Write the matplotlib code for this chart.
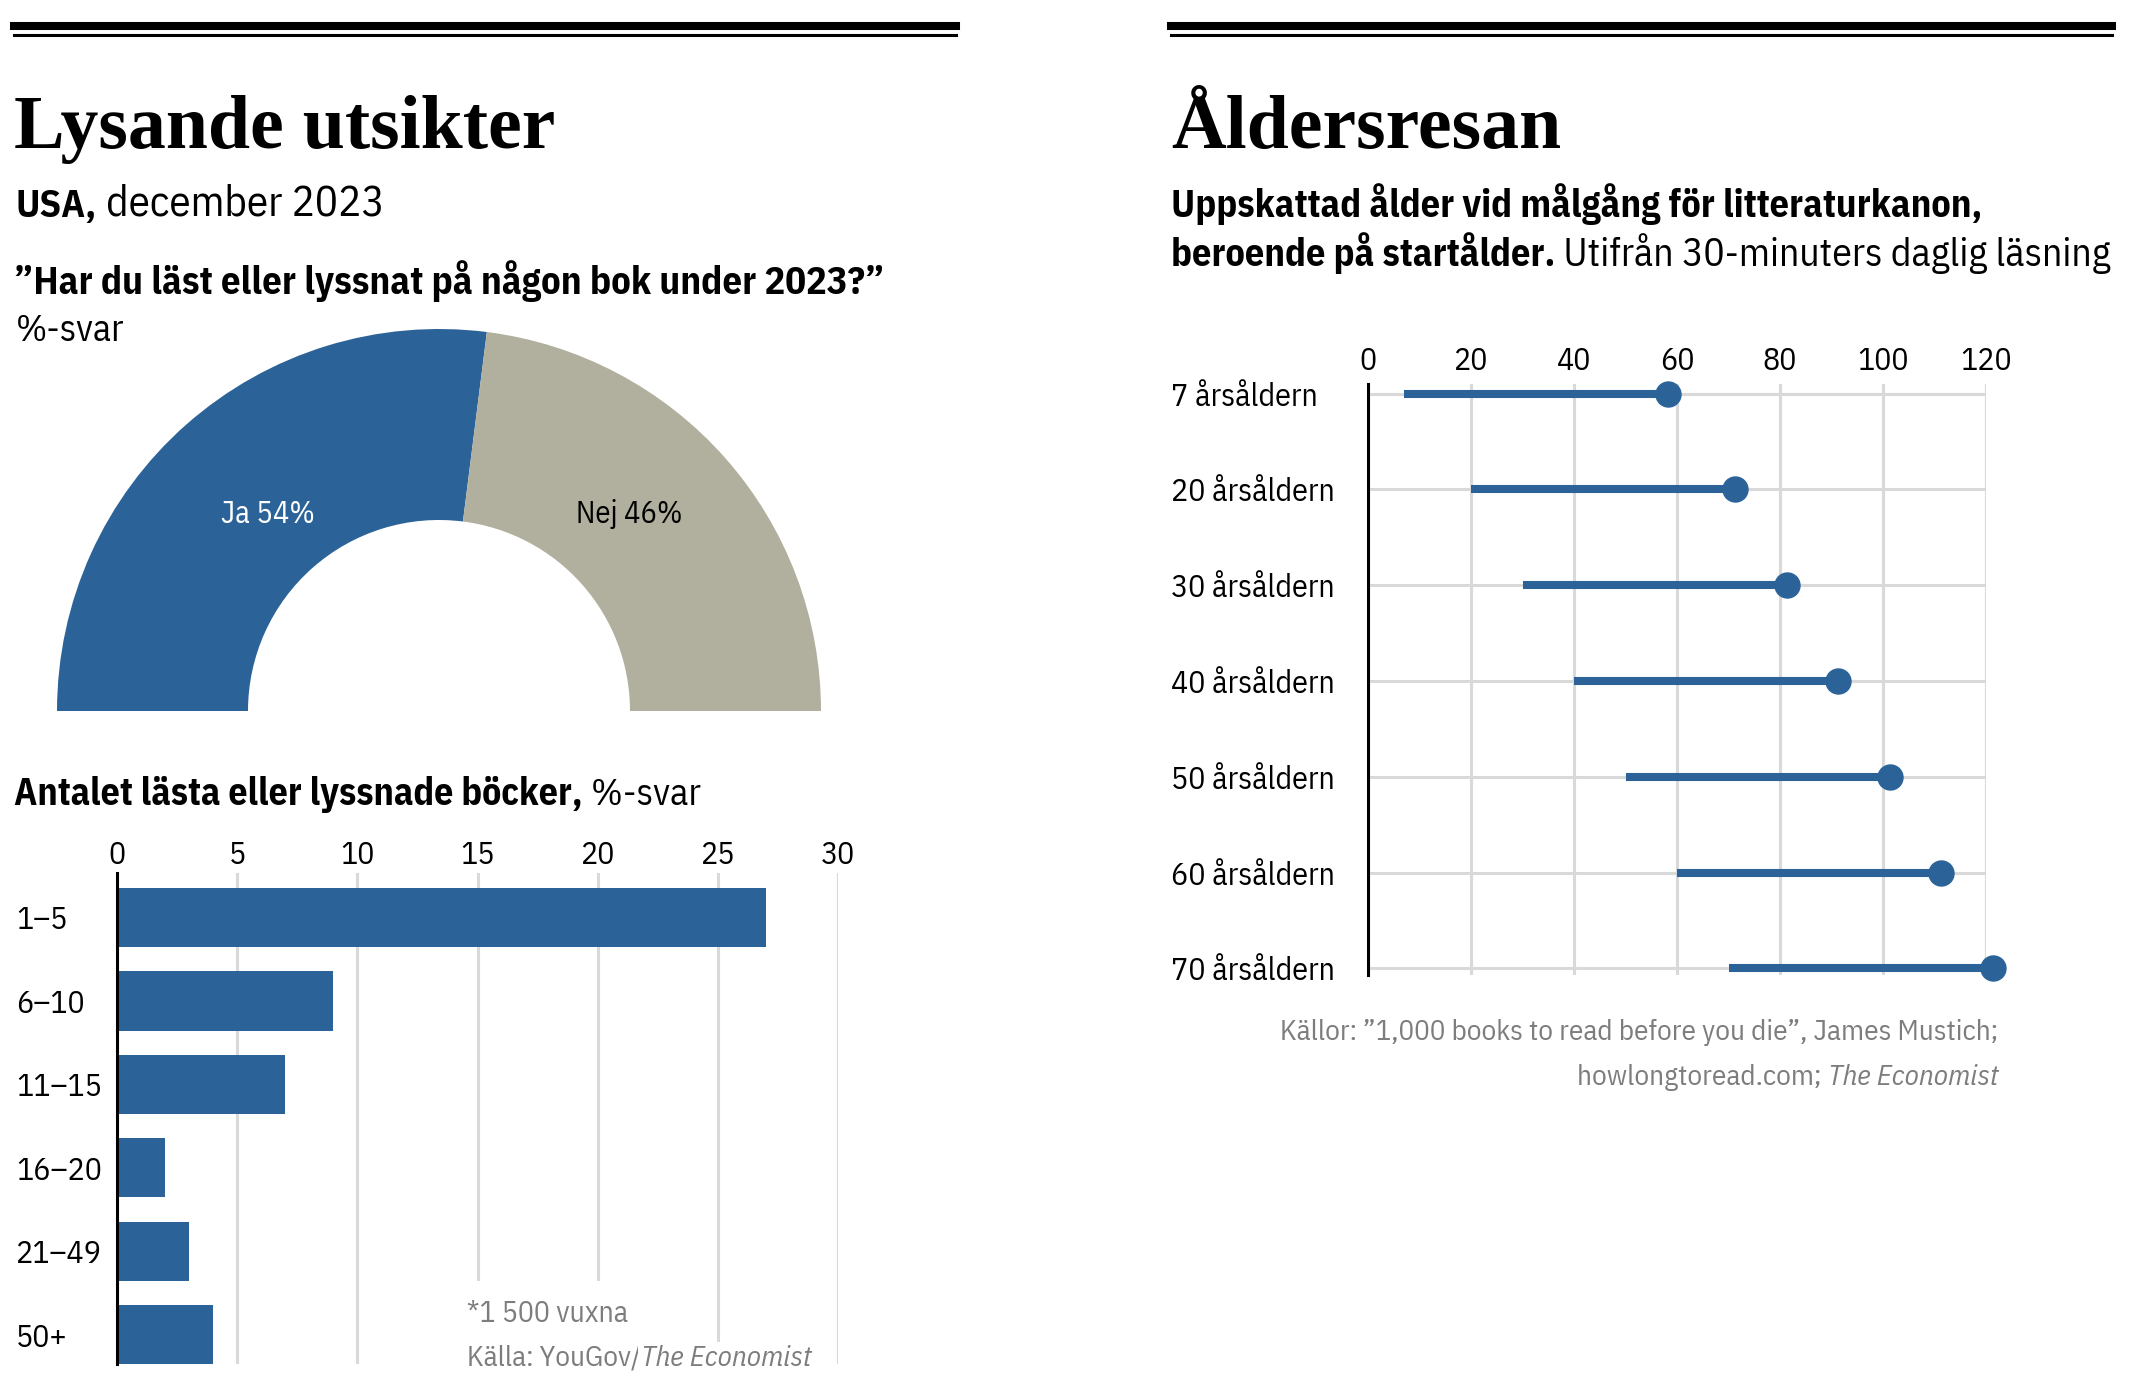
import numpy as np
import matplotlib.pyplot as plt
import matplotlib.font_manager as fm
from matplotlib.lines import Line2D
from matplotlib.text import Annotation

# data
pie_labels = ["Ja", "Nej"]
pie_values = [54, 46]

book_cats = ["1–5", "6–10", "11–15", "16–20", "21–49", "50+"]
book_pct = [27, 9, 7, 2, 3, 4]

start_labels = ["7 årsåldern", "20 årsåldern", "30 årsåldern", "40 årsåldern",
                "50 årsåldern", "60 årsåldern", "70 årsåldern"]
start_age = [7, 20, 30, 40, 50, 60, 70]
finish_age = [58.3, 71.3, 81.3, 91.3, 101.3, 111.3, 121.3]

BLUE = '#2b6399'
BEIGE = '#b1b09f'
GRID = '#d9d9d9'
GREY = '#7d7d7d'


def pick(cands, fallback):
    have = {}
    for f in fm.fontManager.ttflist:
        have.setdefault(f.name, set()).add((f.style, f.weight))
    for c in cands:
        if c in have:
            st = have[c]
            if any(w >= 600 for s, w in st if s == 'normal') and any(s == 'italic' for s, w in st):
                return [c, fallback]
    return [fallback]


SANS = pick(['IBM Plex Sans Condensed', 'Roboto Condensed', 'Fira Sans Condensed',
             'Archivo Narrow', 'PT Sans Narrow', 'Liberation Sans Narrow',
             'Barlow Semi Condensed'], 'DejaVu Sans')
SERIF = ['Liberation Serif', 'DejaVu Serif']
plt.rcParams['font.family'] = SANS

W, H = 2132, 1390
fig = plt.figure(figsize=(W / 100, H / 100), dpi=100)


def box(x0, y0, x1, y1):
    return [x0 / W, 1 - y1 / H, (x1 - x0) / W, (y1 - y0) / H]


def ftext(x, y, s, **kw):
    return fig.text(x / W, 1 - y / H, s, **kw)


def after(t, s, **kw):
    # continue a text run right after another text artist
    a = Annotation(s, xy=(1, 0), xycoords=t, va='bottom', ha='left', zorder=5, **kw)
    fig.add_artist(a)
    return a


def before(t, s, **kw):
    a = Annotation(s, xy=(0, 0), xycoords=t, va='bottom', ha='right', zorder=5, **kw)
    fig.add_artist(a)
    return a


# header rules
for x0, x1 in [(14, 956), (1171, 2112)]:
    fig.add_artist(Line2D([x0 / W, x1 / W], [1 - 26 / H, 1 - 26 / H], color='black', lw=5.8))
    fig.add_artist(Line2D([x0 / W, x1 / W], [1 - 35.3 / H, 1 - 35.3 / H], color='black', lw=2.2))

# ---------- half donut ----------
ax1 = fig.add_axes(box(57, 329, 821, 711))
vals = pie_values + [sum(pie_values)]
labs = [f"{l} {v}%" for l, v in zip(pie_labels, pie_values)] + [""]
wedges, texts = ax1.pie(vals, labels=labs, colors=[BLUE, BEIGE, 'white'], startangle=180,
                        counterclock=False, radius=1, labeldistance=0.7,
                        wedgeprops=dict(width=0.5, linewidth=0),
                        textprops=dict(ha='center', va='center', fontsize=22))
wedges[2].set_visible(False)
texts[0].set_color('white')
texts[0].set_position((-0.448, 0.516))
texts[1].set_color('black')
texts[1].set_position((0.498, 0.516))
ax1.set_xlim(-1, 1)
ax1.set_ylim(0, 1)
ax1.set_aspect('equal')
ax1.axis('off')

# ---------- bar chart ----------
ax2 = fig.add_axes(box(117, 873, 838, 1364))
y = np.arange(len(book_cats))
ax2.barh(y, book_pct, height=0.71, color=BLUE, zorder=2)
ax2.set_xlim(0, 30)
ax2.set_ylim(len(book_cats) - 1 + 0.35, -0.533)
ax2.set_xticks(np.arange(0, 31, 5))
ax2.xaxis.tick_top()
ax2.set_yticks(y, book_cats)
for lab in ax2.get_yticklabels():
    lab.set_horizontalalignment('left')
ax2.tick_params(axis='y', length=0, pad=101 * 0.72, labelsize=23)
ax2.tick_params(axis='x', length=0, pad=2.5, labelsize=23)
ax2.grid(axis='x', color=GRID, lw=2.2, zorder=0)
ax2.set_axisbelow(True)
for s in ['top', 'right', 'bottom']:
    ax2.spines[s].set_visible(False)
ax2.spines['left'].set_linewidth(2.2)
ax2.spines['left'].set_zorder(3)

# ---------- dumbbell ----------
ax3 = fig.add_axes(box(1368, 384, 1986, 975))
r = np.arange(len(start_labels))
ax3.hlines(r, start_age, finish_age, color=BLUE, lw=5.8, zorder=3)
ax3.plot(finish_age, r, 'o', color=BLUE, ms=18, zorder=4, clip_on=False)
ax3.set_xlim(0, 120)
ax3.set_ylim(len(r) - 1 + 0.07, -0.1)
ax3.set_xticks(np.arange(0, 121, 20))
ax3.xaxis.tick_top()
ax3.set_yticks(r, start_labels)
for lab in ax3.get_yticklabels():
    lab.set_horizontalalignment('left')
ax3.tick_params(axis='y', length=0, pad=197 * 0.72, labelsize=23)
ax3.tick_params(axis='x', length=0, pad=6, labelsize=23)
ax3.grid(True, color=GRID, lw=2.2, zorder=0)
for s in ['top', 'right', 'bottom']:
    ax3.spines[s].set_visible(False)
ax3.spines['left'].set_linewidth(2.2)
ax3.spines['left'].set_zorder(5)

# ---------- texts, left ----------
ftext(14, 148, "Lysande utsikter", family=SERIF, weight='bold', fontsize=54.5, va='baseline')
t = ftext(16, 217, "USA,", fontsize=28, weight='bold', va='baseline')
after(t, " december 2023", fontsize=31)
ftext(14, 294, "”Har du läst eller lyssnat på någon bok under 2023?”", fontsize=27.8,
      weight='bold', va='baseline')
ftext(16, 341, "%-svar", fontsize=27, va='baseline')
t = ftext(14, 805, "Antalet lästa eller lyssnade böcker,", fontsize=27.3, weight='bold', va='baseline')
after(t, " %-svar", fontsize=27.3)

ftext(467, 1322, "*1 500 vuxna", fontsize=21.5, color=GREY, va='baseline',
      bbox=dict(facecolor='white', edgecolor='none', pad=14))
t = ftext(467, 1366, "Källa: YouGov/", fontsize=21, color=GREY, va='baseline',
          bbox=dict(facecolor='white', edgecolor='none', pad=10))
after(t, "The Economist", fontsize=21, color=GREY, style='italic',
      bbox=dict(facecolor='white', edgecolor='none', pad=2))

# ---------- texts, right ----------
ftext(1171, 148, "Åldersresan", family=SERIF, weight='bold', fontsize=54.5, va='baseline')
ftext(1171, 217, "Uppskattad ålder vid målgång för litteraturkanon,", fontsize=27.5,
      weight='bold', va='baseline')
t = ftext(1171, 266, "beroende på startålder.", fontsize=27.5, weight='bold', va='baseline')
after(t, " Utifrån 30-minuters daglig läsning", fontsize=28.5)

ftext(1998, 1040, "Källor: ”1,000 books to read before you die”, James Mustich;",
      fontsize=21, color=GREY, ha='right', va='baseline')
t = ftext(1998, 1085, "The Economist", fontsize=21, color=GREY, ha='right', va='baseline',
          style='italic')
before(t, "howlongtoread.com; ", fontsize=21, color=GREY)

fig.savefig('out.png', dpi=100, facecolor='white')
